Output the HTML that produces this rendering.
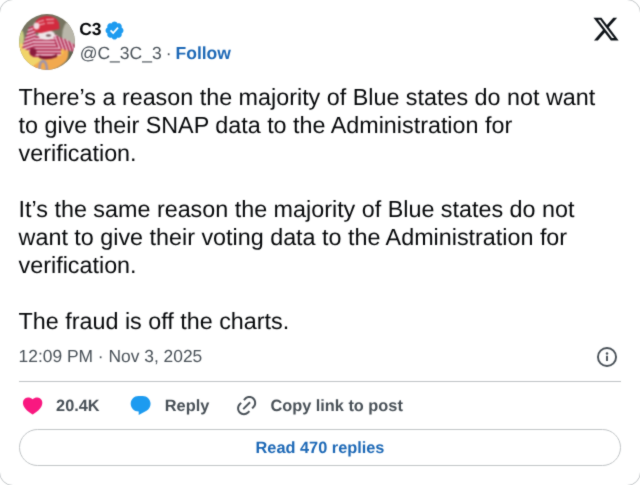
<!DOCTYPE html>
<html><head><meta charset="utf-8">
<style>
html,body{margin:0;padding:0;background:#fff;width:640px;height:485px;overflow:hidden;position:relative}
*{-webkit-font-smoothing:antialiased;text-rendering:geometricPrecision}
body{font-family:"Liberation Sans",sans-serif;color:rgb(5,7,9)}
.a{position:absolute;white-space:nowrap}
.card{position:absolute;left:-1.25px;top:-1.25px;width:642.5px;height:487.5px;border:1.17px solid rgb(192,196,198);border-radius:14px;box-sizing:border-box}
.name{left:79.2px;top:18.4px;font-size:17.5px;line-height:23.33px;font-weight:bold}
.handle{left:79.7px;top:42.1px;font-size:17.5px;line-height:23.33px;color:rgb(72,80,87);word-spacing:-0.85px}
.follow{color:rgb(28,104,182);font-weight:bold}
.txt{left:18.6px;top:82.66px;font-size:23.33px;line-height:28px}
.ts{left:18.6px;top:344.65px;font-size:17.4px;line-height:23.33px;color:rgb(72,80,87)}
.sep{position:absolute;left:18.6px;width:602.6px;top:380.8px;height:1.17px;background:rgb(190,194,196)}
.act{top:395.2px;font-size:16.33px;line-height:23.33px;font-weight:bold;color:rgb(72,80,87)}
.btn{position:absolute;left:18.6px;top:428.8px;width:602.6px;height:37.3px;box-sizing:border-box;border:1.17px solid rgb(192,196,198);border-radius:20px}
.btxt{left:0;width:640px;text-align:center;top:437.1px;font-size:16.33px;line-height:23.33px;font-weight:bold;color:rgb(28,104,182)}
svg{position:absolute}
</style></head><body>
<svg width="0" height="0" style="position:absolute"><filter id="soft" x="0" y="0" width="100%" height="100%" color-interpolation-filters="sRGB"><feConvolveMatrix order="3" kernelMatrix="1 4 1 4 26 4 1 4 1" edgeMode="none"/></filter></svg>
<div id="wrap" style="position:absolute;left:0;top:0;width:640px;height:485px;overflow:hidden;filter:url(#soft)">
<div class="card"></div>

<svg style="left:19px;top:14px" width="56" height="56" viewBox="0 0 56 56">
<defs><clipPath id="cp"><circle cx="28" cy="28" r="27.9"/></clipPath>
<pattern id="st" width="4" height="3.2" patternUnits="userSpaceOnUse"><rect width="4" height="3.2" fill="#a8163e"/><rect y="1.6" width="4" height="1.6" fill="#f3d0de"/></pattern>
<pattern id="st2" width="4" height="3.2" patternUnits="userSpaceOnUse" patternTransform="rotate(-20)"><rect width="4" height="3.2" fill="#a8163e"/><rect y="1.6" width="4" height="1.6" fill="#f3d0de"/></pattern>
<pattern id="st3" width="4" height="3.2" patternUnits="userSpaceOnUse" patternTransform="rotate(70)"><rect width="4" height="3.2" fill="#a8163e"/><rect y="1.6" width="4" height="1.6" fill="#f0c8d8"/></pattern>
<filter id="bl" x="0" y="0" width="56" height="56" filterUnits="userSpaceOnUse" color-interpolation-filters="sRGB"><feConvolveMatrix order="3" kernelMatrix="1 2 1 2 4 2 1 2 1" edgeMode="duplicate"/></filter></defs>
<g clip-path="url(#cp)">
<rect width="56" height="56" fill="#767460"/>
<g filter="url(#bl)">
<ellipse cx="51" cy="22" rx="8" ry="15" fill="#b9b7aa"/>
<ellipse cx="2" cy="24" rx="3" ry="8" fill="#c9cf82"/>
<path d="M-2 30 Q8 28 16 36 Q22 44 30 46 L30 58 L-2 58 Z" fill="#f1d46a"/>
<path d="M14 52 Q26 44 36 36 Q44 31 50 34 Q52 42 46 48 Q38 56 24 58 L14 58 Z" fill="#f2a94e"/>
<ellipse cx="40" cy="40" rx="5" ry="2" fill="#f4c852" transform="rotate(-30 40 40)"/>
<path d="M49 33 L58 30 L58 58 L45 52 Q51 43 49 33 Z" fill="#5e6350"/>
<path d="M20 58 Q30 56 40 58 Z" fill="#f6e6b0"/>
<path d="M9 22 L36 20 L42 24 L42 41 L30 44 L14 43 L9 36 Z" fill="url(#st)"/>
<path d="M35 21 L48 26 L56 31 L56 38 L46 36 L37 33 Z" fill="url(#st3)"/>
<path d="M3 34 L10 13 L19 10 L13 38 Z" fill="url(#st2)"/>
<ellipse cx="14" cy="38" rx="3.5" ry="4" fill="#8a1a3c"/>
<path d="M20 41 Q28 45 38 40 L38 43 Q28 47 20 44 Z" fill="#7a1532"/>
<ellipse cx="27.5" cy="21" rx="8.5" ry="5" fill="#ede5e7"/>
<ellipse cx="29.5" cy="21.5" rx="2.6" ry="1" fill="#5b3a40"/>
<path d="M14 15 Q15 4 26 2 Q37 1 40 9 L40.5 15 Q30 17 22 19 Q16 19 14 15 Z" fill="#d22a3e"/>
<ellipse cx="17.5" cy="12" rx="3" ry="3.4" fill="#f0dbe0"/>
<g stroke="#f4d4da" stroke-width="0.9" fill="none"><path d="M19 8 L25 6.2 M27 5.6 L35 5.2"/><path d="M20 11 L26 9.5 M28 9 L35 8.8"/></g>
<path d="M20.5 58 Q20 47.5 24 47 Q28 47.5 28 58" stroke="#9a93b2" stroke-width="2.4" fill="none"/>
</g></g></svg>

<div class="a name">C3</div>
<svg style="left:104.2px;top:20.0px" width="21" height="21" viewBox="0 0 22 22"><path fill="rgb(29,155,240)" d="M20.396 11c-.018-.646-.215-1.275-.57-1.816-.354-.54-.852-.972-1.438-1.246.223-.607.27-1.264.14-1.897-.131-.634-.437-1.218-.882-1.687-.47-.445-1.053-.75-1.687-.882-.633-.13-1.29-.083-1.897.14-.273-.587-.704-1.086-1.245-1.44S11.647 1.62 11 1.604c-.646.017-1.273.213-1.813.568s-.969.854-1.24 1.44c-.608-.223-1.267-.272-1.902-.14-.635.13-1.22.436-1.69.882-.445.47-.749 1.055-.878 1.688-.13.633-.08 1.29.144 1.896-.587.274-1.087.705-1.443 1.245-.356.54-.555 1.17-.574 1.817.02.647.218 1.276.574 1.817.356.54.856.972 1.443 1.245-.224.606-.274 1.263-.144 1.896.13.634.433 1.218.877 1.688.47.443 1.054.747 1.687.878.633.132 1.29.084 1.897-.136.274.586.705 1.084 1.246 1.439.54.354 1.17.551 1.816.569.647-.016 1.276-.213 1.817-.567s.972-.854 1.245-1.44c.604.239 1.266.296 1.903.164.636-.132 1.22-.447 1.68-.907.46-.46.776-1.044.908-1.681s.075-1.299-.165-1.903c.586-.274 1.084-.705 1.439-1.246.354-.54.551-1.17.569-1.816z"/><path fill="#fff" d="M9.662 14.85l-3.429-3.428 1.293-1.302 2.072 2.072 4.4-4.794 1.347 1.246z"/></svg>
<div class="a handle">@C_3C_3 · <span class="follow">Follow</span></div>

<svg style="left:592.2px;top:14.5px" width="28" height="28" viewBox="0 0 24 24"><path fill="rgb(15,20,25)" d="M18.244 2.25h3.308l-7.227 8.26 8.502 11.24H16.17l-5.214-6.817L4.99 21.75H1.68l7.73-8.835L1.254 2.25H8.08l4.713 6.231zm-1.161 17.52h1.833L7.084 4.126H5.117z"/></svg>

<div class="a txt">There’s a reason the majority of Blue states do not want<br>to give their SNAP data to the Administration for<br>verification.<br><br>It’s the same reason the majority of Blue states do not<br>want to give their voting data to the Administration for<br>verification.<br><br>The fraud is off the charts.</div>

<div class="a ts">12:09 PM · Nov 3, 2025</div>
<svg style="left:597.2px;top:347.3px" width="20" height="20" viewBox="0 0 20 20"><circle cx="10" cy="10" r="9.05" fill="none" stroke="rgb(72,80,87)" stroke-width="1.9"/><circle cx="10" cy="6.4" r="1.25" fill="rgb(72,80,87)"/><rect x="9.05" y="8.8" width="1.9" height="5.2" fill="rgb(72,80,87)"/></svg>

<div class="sep"></div>

<svg style="left:20.86px;top:393.55px" width="23.27" height="23.27" viewBox="0 0 24 24"><path fill="rgb(249,24,128)" d="M20.884 13.19c-1.351 2.48-4.001 5.12-8.379 7.67l-.503.3-.504-.3c-4.379-2.55-7.029-5.19-8.382-7.67-1.36-2.5-1.41-4.86-.514-6.67.887-1.79 2.647-2.91 4.601-3.01 1.651-.09 3.368.56 4.798 2.01 1.429-1.45 3.146-2.1 4.796-2.01 1.954.1 3.714 1.22 4.601 3.01.896 1.81.846 4.17-.514 6.670z"/></svg>
<div class="a act" style="left:56.1px">20.4K</div>
<svg style="left:129.3px;top:393.8px" width="23.27" height="23.27" viewBox="0 0 24 24"><path fill="rgb(29,155,240)" d="M1.751 10c0-4.42 3.584-8 8.005-8h4.366c4.49 0 8.129 3.64 8.129 8.13 0 2.96-1.607 5.68-4.196 7.11l-8.054 4.46v-3.69h-.067c-4.49.1-8.183-3.51-8.183-8.01z"/></svg>
<div class="a act" style="left:164.8px">Reply</div>
<svg style="left:234.8px;top:393.9px" width="23.27" height="23.27" viewBox="0 0 24 24"><path fill="rgb(72,80,87)" d="M18.36 5.64c-1.95-1.96-5.11-1.96-7.07 0L9.88 7.05 8.46 5.64l1.42-1.42c2.730-2.73 7.16-2.73 9.9 0 2.73 2.74 2.73 7.17 0 9.9l-1.42 1.42-1.41-1.42 1.41-1.41c1.96-1.96 1.960-5.12 0-7.07zm-2.12 3.53l-7.07 7.07-1.41-1.41 7.07-7.07 1.41 1.41zm-12.02.71l1.42-1.42 1.41 1.42-1.41 1.41c-1.96 1.96-1.96 5.12 0 7.07 1.95 1.96 5.11 1.96 7.07 0l1.41-1.41 1.42 1.41-1.42 1.42c-2.73 2.73-7.16 2.73-9.9 0-2.73-2.74-2.73-7.17 0-9.9z"/></svg>
<div class="a act" style="left:270.4px">Copy link to post</div>

<div class="btn"></div>
<div class="a btxt">Read 470 replies</div>
</div>
</body></html>
